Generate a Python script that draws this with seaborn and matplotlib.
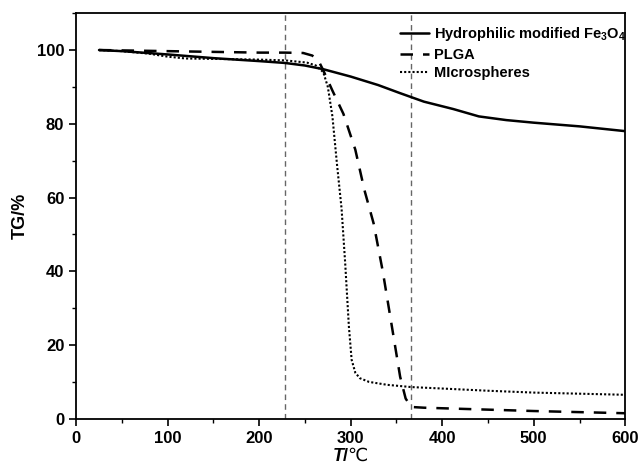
import numpy as np
import pandas as pd
import matplotlib
matplotlib.use("Agg")
import matplotlib.pyplot as plt
import seaborn as sns
from matplotlib.ticker import MultipleLocator

# -------------------------------
# Data
# -------------------------------
fe3o4_t = [25, 50, 100, 150, 200, 228, 250, 270, 300, 330, 354, 380, 412, 440, 470, 500, 550, 600]
fe3o4_tg = [100, 99.7, 98.8, 97.8, 97.0, 96.5, 95.8, 94.8, 92.8, 90.5, 88.3, 86, 84, 82, 81, 80.3, 79.3, 78]

plga_t = [25, 50, 100, 150, 200, 228, 248, 258, 265, 270, 280, 292, 305, 315, 325, 335, 345, 354,
          360, 366, 380, 420, 460, 500, 550, 600]
plga_tg = [100, 99.9, 99.7, 99.5, 99.3, 99.3, 99.2, 98.5, 97, 94.5, 89, 82.7, 73, 62, 53, 40, 25, 11.4,
           5.5, 3.2, 3.0, 2.7, 2.4, 2.1, 1.8, 1.5]

micro_t = [25, 50, 80, 100, 120, 150, 200, 228, 252, 262, 270, 275, 280, 285, 290, 294, 298, 301,
           305, 310, 320, 340, 366, 400, 450, 500, 550, 600]
micro_tg = [100, 99.7, 99, 98.2, 97.7, 97.6, 97.4, 97.2, 96.6, 95.8, 94, 90, 82, 69, 57, 42, 25, 16,
            12.5, 11, 10, 9.2, 8.6, 8.2, 7.6, 7.1, 6.8, 6.5]

marker_lines = [228, 366]

labels = ["Hydrophilic modified Fe$_\\mathbf{3}$O$_\\mathbf{4}$", "PLGA", "MIcrospheres"]

# -------------------------------
# Style
# -------------------------------
sns.set_style("ticks")
plt.rcParams['font.family'] = ['Liberation Sans', 'DejaVu Sans']
plt.rcParams['font.weight'] = 'bold'
plt.rcParams['text.color'] = 'black'
plt.rcParams['axes.labelcolor'] = 'black'
plt.rcParams['xtick.color'] = 'black'
plt.rcParams['ytick.color'] = 'black'
plt.rcParams['mathtext.fontset'] = 'custom'
plt.rcParams['mathtext.bf'] = 'Liberation Sans:bold'
plt.rcParams['mathtext.it'] = 'Liberation Sans:italic:bold'
plt.rcParams['mathtext.rm'] = 'Liberation Sans:bold'

fig = plt.figure(figsize=(6.4, 4.7), dpi=100)
ax = fig.add_axes([0.119, 0.109, 0.858, 0.863])

for xv in marker_lines:
    ax.axvline(xv, color="#666666", linewidth=1.0, linestyle=(0, (4, 3)), zorder=1)

sns.lineplot(x=fe3o4_t, y=fe3o4_tg, ax=ax, color="black", linewidth=1.8,
             linestyle="-", label=labels[0])
sns.lineplot(x=plga_t, y=plga_tg, ax=ax, color="black", linewidth=1.8,
             linestyle=(0, (5, 4)), label=labels[1])
sns.lineplot(x=micro_t, y=micro_tg, ax=ax, color="black", linewidth=1.5,
             linestyle=(0, (1, 1)), label=labels[2])

ax.set_xlim(0, 600)
ax.set_ylim(0, 110)
ax.xaxis.set_major_locator(MultipleLocator(100))
ax.xaxis.set_minor_locator(MultipleLocator(50))
ax.yaxis.set_major_locator(MultipleLocator(20))
ax.yaxis.set_minor_locator(MultipleLocator(10))
ax.tick_params(which="major", direction="out", length=5, width=1.2, labelsize=12)
ax.tick_params(which="minor", direction="out", length=3, width=1.0)
for lab in ax.get_xticklabels() + ax.get_yticklabels():
    lab.set_fontweight("bold")
for sp in ax.spines.values():
    sp.set_linewidth(1.3)
    sp.set_color("black")

ax.set_xlabel("$T/$℃", fontsize=13, labelpad=1, fontfamily="DejaVu Sans",
              fontweight="normal")
ax.set_ylabel("TG/%", fontsize=13, fontweight="bold", labelpad=6)

ax.legend(loc="upper right", frameon=False, fontsize=10.5, handlelength=2.0,
          handletextpad=0.35, labelspacing=0.3, borderaxespad=0.3,
          bbox_to_anchor=(1.02, 0.995))

fig.savefig("out.png", dpi=100)
